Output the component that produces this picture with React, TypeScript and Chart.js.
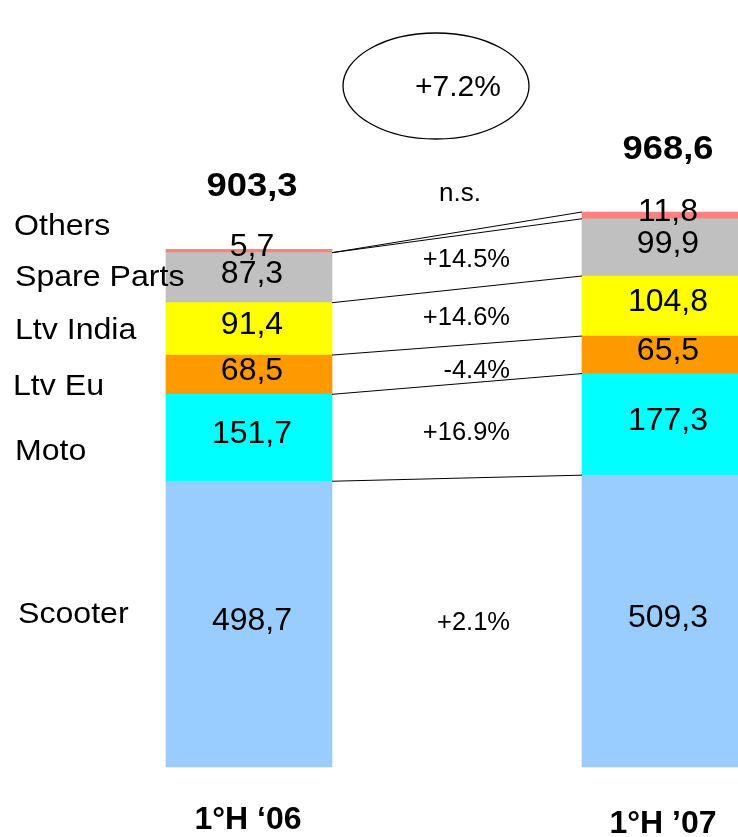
import React, { useEffect, useRef } from "react";
import { Chart, registerables } from "chart.js";

Chart.register(...registerables);

const categories = ["1°H \u201806", "1°H \u201907"];
const seriesNames = ["Scooter", "Moto", "Ltv Eu", "Ltv India", "Spare Parts", "Others"];
const scooter = [498.7, 509.3];
const moto = [151.7, 177.3];
const ltvEu = [68.5, 65.5];
const ltvIndia = [91.4, 104.8];
const spareParts = [87.3, 99.9];
const others = [5.7, 11.8];
const totals = [903.3, 968.6];
const growth = ["+2.1%", "+16.9%", "-4.4%", "+14.6%", "+14.5%", "n.s."];
const totalGrowth = "+7.2%";

const seriesValues = [scooter, moto, ltvEu, ltvIndia, spareParts, others];
const colors = ["#99CCFF", "#00FFFF", "#FF9900", "#FFFF00", "#C0C0C0", "#FF8080"];

const FONT = "'Liberation Sans', Arial, sans-serif";

function fmt(v: number) {
  return v.toFixed(1).replace(".", ",");
}

function drawText(
  ctx: CanvasRenderingContext2D,
  text: string,
  x: number,
  capCenterY: number,
  size: number,
  bold: boolean,
  sx: number,
  align: CanvasTextAlign
) {
  ctx.save();
  ctx.font = `${bold ? "bold " : ""}${size}px ${FONT}`;
  ctx.fillStyle = "#000";
  ctx.textAlign = align;
  ctx.textBaseline = "alphabetic";
  ctx.translate(x, capCenterY + 0.358 * size);
  ctx.scale(sx, 1);
  ctx.fillText(text, 0, 0);
  ctx.restore();
}

const overlayPlugin = {
  id: "overlay",
  afterDatasetsDraw(chart: any) {
    const ctx: CanvasRenderingContext2D = chart.ctx;
    const n = chart.data.datasets.length;
    const el = (d: number, j: number) => chart.getDatasetMeta(d).data[j];

    // connecting lines
    ctx.save();
    ctx.strokeStyle = "#000";
    ctx.lineWidth = 1;
    const L0 = el(0, 0);
    const R0 = el(0, 1);
    const lx = L0.x + L0.width / 2;
    const rx = R0.x - R0.width / 2;
    const line = (y1: number, y2: number) => {
      ctx.beginPath();
      ctx.moveTo(lx, y1);
      ctx.lineTo(rx, y2);
      ctx.stroke();
    };
    for (let d = 0; d < n - 2; d++) {
      line(el(d, 0).y, el(d, 1).y);
    }
    line(el(n - 2, 0).y, el(n - 2, 1).y);
    line(el(n - 2, 0).y, el(n - 1, 1).y);
    ctx.restore();

    // values inside segments
    for (let d = 0; d < n; d++) {
      for (let j = 0; j < 2; j++) {
        const e = el(d, j);
        const cy = (e.y + e.base) / 2 - 6;
        drawText(ctx, fmt(seriesValues[d][j]), e.x + 3, cy, 32, false, 1.0, "center");
      }
    }

    // totals
    for (let j = 0; j < 2; j++) {
      const top = el(n - 1, j);
      drawText(ctx, fmt(totals[j]), top.x + 3, top.y - 65, 33, true, 1.1, "center");
    }

    // series names on the left
    const nameY = [612, 449, 384, 328, 275, 224];
    const nameX = [18, 15, 13, 15, 15, 14];
    for (let d = 0; d < n; d++) {
      drawText(ctx, seriesNames[d], nameX[d], nameY[d], 30, false, 1.07, "left");
    }

    // growth labels
    const gY = [621, 431, 369.5, 316, 258];
    for (let i = 0; i < 5; i++) {
      drawText(ctx, growth[i], 510, gY[i], 25, false, 1.02, "right");
    }
    // n.s. (x-height text)
    ctx.save();
    ctx.font = `26px ${FONT}`;
    ctx.fillStyle = "#000";
    ctx.textAlign = "center";
    ctx.fillText(growth[5], 460, 201);
    ctx.restore();

    // ellipse with total growth
    ctx.save();
    ctx.strokeStyle = "#000";
    ctx.lineWidth = 1.3;
    ctx.beginPath();
    ctx.ellipse(436, 86, 93, 53, 0, 0, Math.PI * 2);
    ctx.stroke();
    ctx.restore();
    drawText(ctx, totalGrowth, 458, 85, 30, false, 1.0, "center");

    // category labels
    const catY = [818, 822];
    for (let j = 0; j < 2; j++) {
      const e = el(0, j);
      drawText(ctx, chart.data.labels[j], e.x - (j === 0 ? 1 : 2), catY[j], 32, true, 1.0, "center");
    }
  },
};

export default function App() {
  const ref = useRef<HTMLCanvasElement | null>(null);

  useEffect(() => {
    if (!ref.current) return;
    const chart = new Chart(ref.current, {
      type: "bar",
      data: {
        labels: categories,
        datasets: seriesNames.map((name, i) => ({
          label: name,
          data: seriesValues[i],
          backgroundColor: colors[i],
          borderWidth: 0,
          barThickness: 166,
          clip: false as any,
        })),
      },
      options: {
        responsive: false,
        animation: false,
        events: [],
        layout: { padding: { left: 249, right: 73, top: 194, bottom: 70 } },
        plugins: { legend: { display: false }, tooltip: { enabled: false } },
        scales: {
          x: { type: "category", display: false, offset: false, stacked: true, grid: { display: false } },
          y: { display: false, stacked: true, min: 0, max: 1000, grid: { display: false } },
        },
      },
      plugins: [overlayPlugin],
    });
    return () => chart.destroy();
  }, []);

  return (
    <div style={{ position: "absolute", left: 0, top: 0, width: 738, height: 837, background: "#fff" }}>
      <canvas ref={ref} width={738} height={837} style={{ display: "block" }} />
    </div>
  );
}
